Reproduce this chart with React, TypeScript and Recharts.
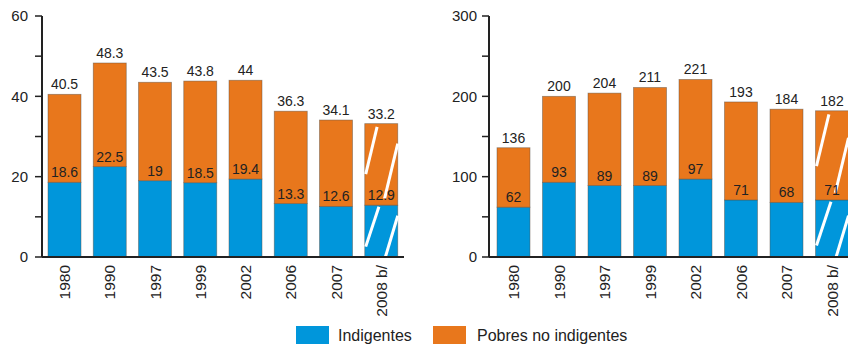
import React from 'react';
import { BarChart, Bar, XAxis, YAxis, LabelList } from 'recharts';

const years = ['1980', '1990', '1997', '1999', '2002', '2006', '2007', '2008 b/'];
const hatchedYears = ['2008 b/'];

const indigentesPct = [18.6, 22.5, 19, 18.5, 19.4, 13.3, 12.6, 12.9];
const pobresNoIndigentesPct = [21.9, 25.8, 24.5, 25.3, 24.6, 23.0, 21.5, 20.3];
const totalPct = [40.5, 48.3, 43.5, 43.8, 44, 36.3, 34.1, 33.2];

const indigentesMill = [62, 93, 89, 89, 97, 71, 68, 71];
const pobresNoIndigentesMill = [74, 107, 115, 122, 124, 122, 116, 111];
const totalMill = [136, 200, 204, 211, 221, 193, 184, 182];

const pctTicks = [0, 10, 20, 30, 40, 50, 60];
const pctLabeled = [0, 20, 40, 60];
const millTicks = [0, 50, 100, 150, 200, 250, 300];
const millLabeled = [0, 100, 200, 300];

const legendNames = ['Indigentes', 'Pobres no indigentes'];

const BLUE = '#0096DB';
const ORANGE = '#E8771C';
const INK = '#222222';
const FONT = '"Liberation Sans", Arial, Helvetica, sans-serif';

const pctData = years.map((year, i) => ({
  year,
  indigentes: indigentesPct[i],
  pobres: pobresNoIndigentesPct[i],
  total: totalPct[i],
}));
const millData = years.map((year, i) => ({
  year,
  indigentes: indigentesMill[i],
  pobres: pobresNoIndigentesMill[i],
  total: totalMill[i],
}));

const makeShape = (kind: 'blue' | 'orange') => (props: any) => {
  const { x, y, width: w, height: h, fill, payload } = props;
  const slashes: React.ReactNode[] = [];
  if (payload && hatchedYears.includes(payload.year) && h > 0) {
    if (kind === 'orange') {
      const k = 0.24;
      const b1y = y + 0.62 * h, t1y = y + 0.04 * h;
      const b1x = x + 0.03 * w, t1x = b1x + k * (b1y - t1y);
      const b2x = x + 0.6 * w, b2y = y + 0.92 * h;
      const t2x = x + w, t2y = b2y - (t2x - b2x) / k;
      slashes.push(<line key="a" x1={b1x} y1={b1y} x2={t1x} y2={t1y} stroke="#fff" strokeWidth={3} />);
      slashes.push(<line key="b" x1={b2x} y1={b2y} x2={t2x} y2={t2y} stroke="#fff" strokeWidth={3} />);
    } else {
      const k = 0.33;
      const b1y = y + 0.8 * h, t1y = y + 0.03 * h;
      const b1x = x + 0.03 * w, t1x = b1x + k * (b1y - t1y);
      const b2x = x + 0.63 * w, b2y = y + 0.99 * h;
      const t2x = x + w, t2y = b2y - (t2x - b2x) / 0.3;
      slashes.push(<line key="a" x1={b1x} y1={b1y} x2={t1x} y2={t1y} stroke="#fff" strokeWidth={3} />);
      slashes.push(<line key="b" x1={b2x} y1={b2y} x2={t2x} y2={t2y} stroke="#fff" strokeWidth={3} />);
    }
  }
  return (
    <g>
      <rect x={x} y={y} width={w} height={h} fill={fill} stroke="rgba(90,80,70,0.55)" strokeWidth={0.8} />
      {slashes}
    </g>
  );
};

const XTick = (props: any) => {
  const { x, y, payload } = props;
  return (
    <text
      x={x}
      y={y}
      transform={`rotate(-90, ${x}, ${y})`}
      textAnchor="end"
      dy="0.36em"
      fontSize={15.5}
      fontFamily={FONT}
      fill={INK}
    >
      {payload.value}
    </text>
  );
};

const Panel = ({ data, ticks, labeled, max, tickMargin, rightMargin, padLeft }: any) => (
  <BarChart
    width={420}
    height={344}
    data={data}
    margin={{ top: 16, right: rightMargin, left: 0, bottom: 27 }}
    barSize={33}
  >
    <XAxis
      dataKey="year"
      tick={<XTick />}
      tickLine={false}
      tickSize={0}
      tickMargin={8}
      height={60}
      interval={0}
      padding={{ left: padLeft, right: 0 }}
      axisLine={{ stroke: INK, strokeWidth: 2 }}
    />
    <YAxis
      width={42}
      domain={[0, max]}
      ticks={ticks}
      interval={0}
      tickFormatter={(v: number) => (labeled.includes(v) ? String(v) : '')}
      tick={{ fontSize: 15, fill: INK, fontFamily: FONT }}
      tickSize={7}
      tickMargin={tickMargin}
      tickLine={{ stroke: INK, strokeWidth: 1.5 }}
      axisLine={{ stroke: INK, strokeWidth: 2 }}
    />
    <Bar dataKey="indigentes" stackId="a" fill={BLUE} isAnimationActive={false} shape={makeShape('blue')}>
      <LabelList dataKey="indigentes" position="top" offset={5} fill={INK} fontSize={14} fontFamily={FONT} />
    </Bar>
    <Bar dataKey="pobres" stackId="a" fill={ORANGE} isAnimationActive={false} shape={makeShape('orange')}>
      <LabelList dataKey="total" position="top" offset={5} fill={INK} fontSize={14} fontFamily={FONT} />
    </Bar>
  </BarChart>
);

export default function App() {
  return (
    <div
      style={{
        position: 'fixed',
        left: 0,
        top: 0,
        width: 848,
        height: 344,
        overflow: 'hidden',
        background: '#fff',
        fontFamily: FONT,
      }}
    >
      <div style={{ position: 'absolute', left: 0, top: 0 }}>
        <Panel data={pctData} ticks={pctTicks} labeled={pctLabeled} max={60} tickMargin={7} rightMargin={16} padLeft={0} />
      </div>
      <div style={{ position: 'absolute', left: 447, top: 0 }}>
        <Panel data={millData} ticks={millTicks} labeled={millLabeled} max={300} tickMargin={5} rightMargin={12} padLeft={2} />
      </div>
      <svg
        width={848}
        height={344}
        style={{ position: 'absolute', left: 0, top: 0, pointerEvents: 'none' }}
      >
        <rect x={296} y={326} width={33} height={20} fill={BLUE} />
        <text x={338} y={341} fontSize={16} fontFamily={FONT} fill={INK}>
          {legendNames[0]}
        </text>
        <rect x={433} y={326} width={33} height={20} fill={ORANGE} />
        <text x={477} y={341} fontSize={16} fontFamily={FONT} fill={INK}>
          {legendNames[1]}
        </text>
      </svg>
    </div>
  );
}
